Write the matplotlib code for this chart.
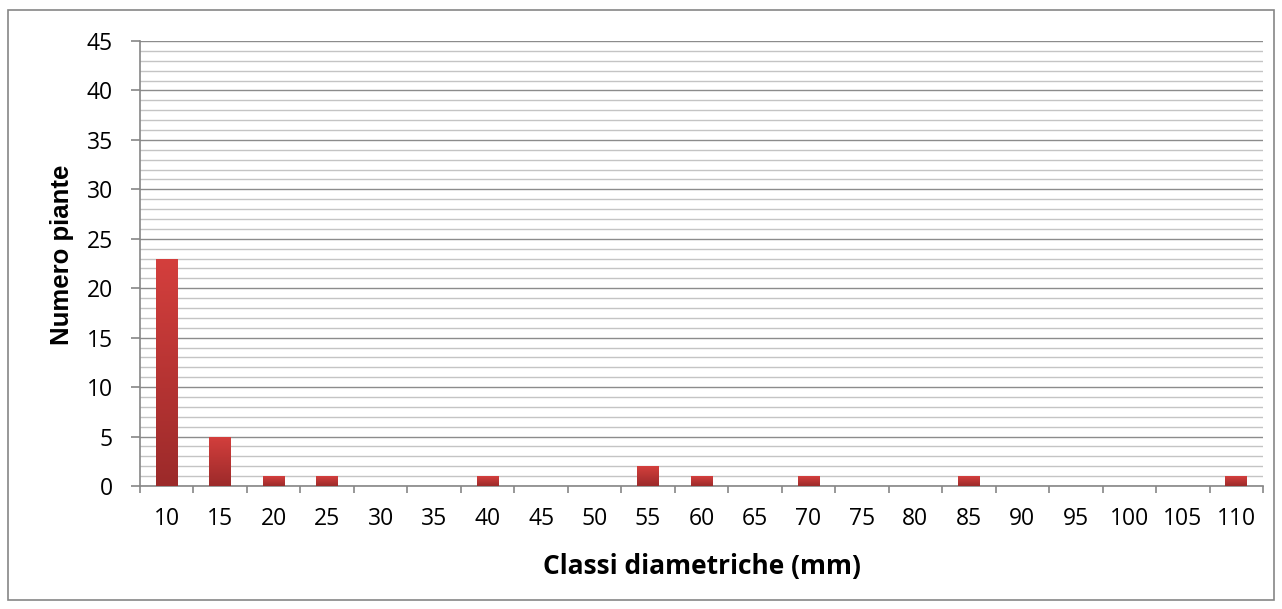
import numpy as np
import matplotlib.pyplot as plt
from matplotlib.ticker import MultipleLocator, FixedLocator
from matplotlib.patches import Rectangle
from matplotlib.colors import LinearSegmentedColormap

plt.rcParams['font.family'] = ['Open Sans', 'DejaVu Sans']

classi = [10, 15, 20, 25, 30, 35, 40, 45, 50, 55, 60, 65, 70, 75, 80, 85, 90, 95, 100, 105, 110]
piante = [23, 5, 1, 1, 0, 0, 1, 0, 0, 2, 1, 0, 1, 0, 0, 1, 0, 0, 0, 0, 1]

fig = plt.figure(figsize=(12.82, 6.09), dpi=100)
fig.patches.append(Rectangle((0.006, 0.015), 0.988, 0.968, transform=fig.transFigure,
                             fill=False, edgecolor='#868686', linewidth=1.2))
ax = fig.add_axes([0.1092, 0.2020, 0.8760, 0.7307])

x = np.arange(len(classi))
bw = 0.41
cmap = LinearSegmentedColormap.from_list('rosso', ['#9c2a2a', '#d43f3d'])
grad = np.linspace(0, 1, 256).reshape(-1, 1)
bars = ax.bar(x, piante, width=bw, color='none', zorder=3)
for b in bars:
    h = b.get_height()
    if h <= 0:
        continue
    x0 = b.get_x()
    im = ax.imshow(grad, cmap=cmap, origin='lower', aspect='auto',
                   extent=(x0, x0 + bw, 0, h), zorder=3)
    im.set_clip_path(b)

ax.set_xlim(-0.5, len(classi) - 0.5)
ax.set_ylim(0, 45)
ax.yaxis.set_major_locator(MultipleLocator(5))
ax.yaxis.set_minor_locator(MultipleLocator(1))
ax.set_xticks(x)
ax.set_xticklabels([str(c) for c in classi])
ax.xaxis.set_minor_locator(FixedLocator(np.arange(-0.5, len(classi), 1)))

ax.grid(which='major', axis='y', color='#8c8c8c', linewidth=1.0, zorder=0)
ax.grid(which='minor', axis='y', color='#c4c4c4', linewidth=1.0, zorder=0)
ax.set_axisbelow(True)

ax.tick_params(axis='x', which='major', length=0, labelsize=16.5, pad=15)
ax.tick_params(axis='x', which='minor', length=5, color='#868686', width=1.2)
ax.tick_params(axis='y', which='major', length=6.5, color='#868686', width=1.2, labelsize=16.5, pad=13)
ax.tick_params(axis='y', which='minor', length=0)

for s in ['top', 'right']:
    ax.spines[s].set_visible(False)
for s in ['left', 'bottom']:
    ax.spines[s].set_color('#868686')
    ax.spines[s].set_linewidth(1.2)

ax.set_xlabel('Classi diametriche (mm)', fontsize=19, fontweight='bold', va='center')
ax.xaxis.set_label_coords(0.5, -0.18)
ax.set_ylabel('Numero piante', fontsize=18.5, fontweight='bold', va='center',
              family=['Liberation Sans', 'DejaVu Sans'])
ax.yaxis.set_label_coords(-0.0695, 0.52)

fig.savefig('out.png', dpi=100)
